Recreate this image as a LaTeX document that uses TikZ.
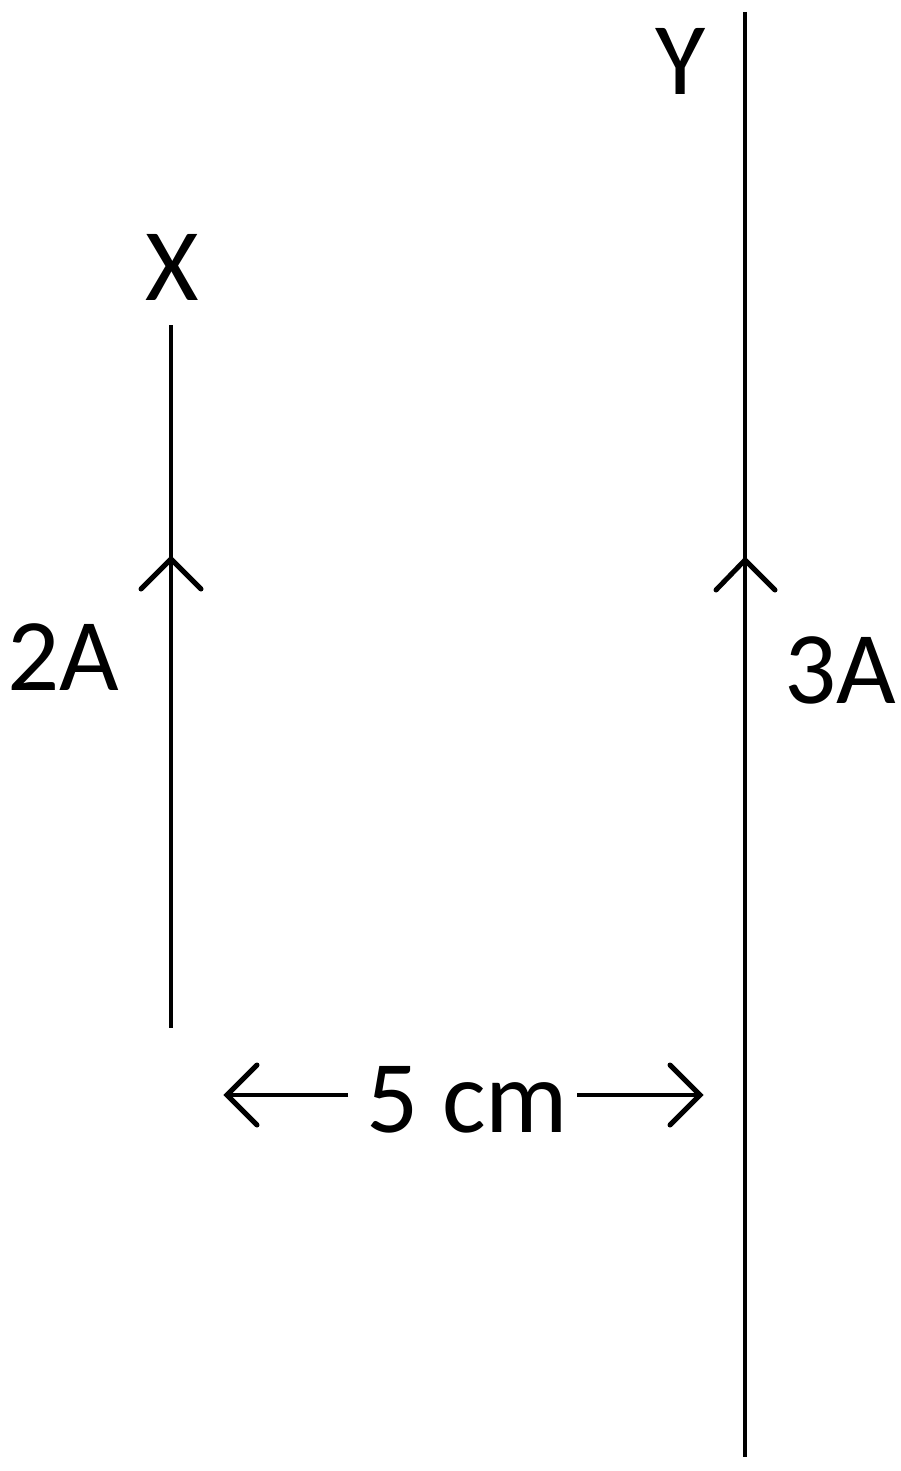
\documentclass[tikz,border=0pt]{standalone}
\usepackage{fontspec}
\setmainfont{Carlito}
\begin{document}
\begin{tikzpicture}[x=1pt,y=-1pt,
  wire/.style={line width=4.6pt},
  barb/.style={line width=5pt,line cap=round,line join=miter},
  lbl/.style={inner sep=0pt,anchor=base,font=\fontsize{103}{120}\selectfont}]
\useasboundingbox[fill=white] (0,0) rectangle (900,1471);
% wires
\coordinate (xt) at (171,325);
\coordinate (xb) at (171,1028);
\coordinate (yt) at (745,12);
\coordinate (yb) at (745,1457);
\draw[wire] (xt) -- (xb);
\draw[wire] (yt) -- (yb);
% current arrowheads
\coordinate (xa) at (171,559);
\coordinate (ya) at (745,560);
\draw[barb] ([shift={(-30,30)}]xa) -- (xa) -- ([shift={(30,30)}]xa);
\draw[barb] ([shift={(-29,30)}]ya) -- (ya) -- ([shift={(30,30)}]ya);
% labels
\node[lbl] (Y) at (680.5,95) {Y};
\node[lbl] (X) at (172.5,300) {X};
\node[lbl] (I2) at (63.5,690) {2A};
\node[lbl] (I3) at (840,703) {3A};
\node[lbl] (d) at (467.5,1132) {5 cm};
% distance arrows
\coordinate (la) at (227,1095);
\coordinate (ls) at (348,1095);
\coordinate (ra) at (700,1095);
\coordinate (rs) at (577,1095);
\draw[wire] (ls) -- (la);
\draw[wire] (rs) -- (ra);
\draw[barb] ([shift={(30,-30)}]la) -- (la) -- ([shift={(30,30)}]la);
\draw[barb] ([shift={(-30,-30)}]ra) -- (ra) -- ([shift={(-30,30)}]ra);
\end{tikzpicture}
\end{document}
